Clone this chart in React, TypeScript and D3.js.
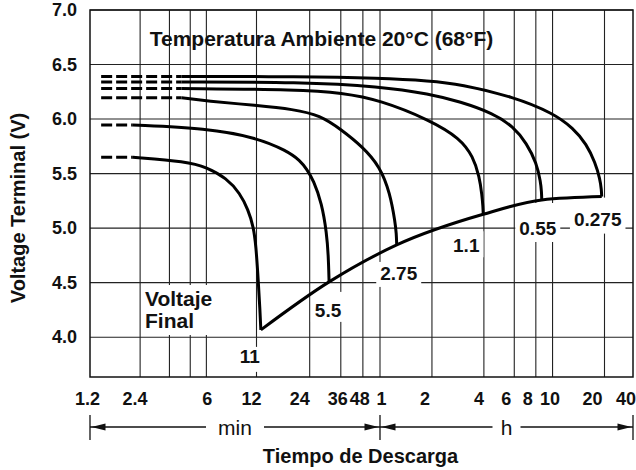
import React from 'react';
import * as d3 from 'd3';

// discharge current labels (A), top curve first
const currents = ['0.275', '0.55', '1.1', '2.75', '5.5', '11'];

// [minutes, volts]
const disch0275 = [[4.26, 6.39], [21.2, 6.39], [60, 6.375], [117, 6.35], [174.5, 6.32], [355.5, 6.205], [607, 6.053], [791, 5.916], [945, 5.77], [1060, 5.6], [1130, 5.45], [1152, 5.35], [1156, 5.289]];
const disch055 = [[4.26, 6.34], [21.2, 6.34], [60, 6.3], [117, 6.23], [174.5, 6.16], [272, 6.053], [355.5, 5.93], [425, 5.778], [485, 5.595], [512, 5.42], [518, 5.33], [519.6, 5.258]];
const disch1_1 = [[4.26, 6.28], [21.2, 6.27], [36.4, 6.24], [60, 6.175], [117, 5.99], [174.5, 5.824], [208, 5.655], [226, 5.472], [234, 5.3], [237, 5.2], [238, 5.127]];
const disch2_75 = [[4.26, 6.196], [6.02, 6.166], [12, 6.125], [19.4, 6.09], [27.5, 6.035], [36.4, 5.9], [47.7, 5.747], [60, 5.564], [68.6, 5.32], [73.5, 5.05], [74.6, 4.95], [75, 4.846]];
const disch5_5 = [[2.17, 5.946], [6.02, 5.916], [12, 5.83], [17.8, 5.71], [21.2, 5.62], [23.1, 5.54], [25.2, 5.44], [28.1, 5.228], [29.95, 4.953], [30.6, 4.75], [30.9, 4.507]];
const disch11 = [[2.17, 5.65], [4.57, 5.61], [6.02, 5.558], [7.94, 5.457], [9.55, 5.32], [10.7, 5.167], [11.49, 5.014], [11.9, 4.85], [12.3, 4.5], [12.55, 4.25], [12.7, 4.067]];
const series = [disch0275, disch055, disch1_1, disch2_75, disch5_5, disch11];

const dashStart = 1.4; // minutes, dashed lead-in starts here

const gridMinutes = [2.4, 3.6, 4.8, 6, 12, 24, 36, 48, 60, 120, 240, 360, 480, 600, 1200];
const tickMinutes = [1.2, 2.4, 6, 12, 24, 36, 48, 60, 120, 240, 360, 480, 600, 1200, 2400];
const tickLabels = ['1.2', '2.4', '6', '12', '24', '36', '48', '1', '2', '4', '6', '8', '10', '20', '40'];
const voltTicks = [4.0, 4.5, 5.0, 5.5, 6.0, 6.5, 7.0];

// layout: the original's tick labels sit a little off their grid lines
const tickNudge = [-2.5, -5, 1, -5, -10, -3, -3, 1.5, -7, -5, -8, -8, -2.5, -12, 0];

// label placement relative to the end of each curve (px)
const labelLayout = [
  { dx: -4, dy: 29, top: -28, bottom: 8 },
  { dx: -4, dy: 35, top: -32, bottom: 7 },
  { dx: -17, dy: 38, top: -21, bottom: 5 },
  { dx: 2, dy: 35, top: -18, bottom: 7 },
  { dx: -1, dy: 35, top: -25, bottom: 5 },
  { dx: -11, dy: 33, top: -16, bottom: 9 },
];

const FONT = '"Liberation Sans", Arial, Helvetica, sans-serif';

const x = d3.scaleLog().domain([1.2, 12, 60, 1200, 2400]).range([90, 256.5, 380, 604.5, 633]);
const y = d3.scaleLinear().domain([3.635, 7.0]).range([377, 10]);

const curveLine = d3.line<number[]>()
  .x(d => x(d[0]))
  .y(d => y(d[1]))
  .curve(d3.curveBasis);

const finalLine = d3.line<number[]>()
  .x(d => x(d[0]))
  .y(d => y(d[1]))
  .curve(d3.curveMonotoneX);

const straight = d3.line<number[]>().x(d => x(d[0])).y(d => y(d[1]));

const textWidth = (s: string, size: number) =>
  s.split('').reduce((w, c) => w + (c === '.' ? 0.278 : 0.556) * size, 0);

export default function App() {
  const [x0, x1] = [x(1.2), x(2400)];
  const [yTop, yBot] = [y(7.0), y(3.635)];
  const ends = series.map(s => s[s.length - 1]);
  const arrowY = 427;
  const xMid = x(60);

  const arrow = (tipX: number, dir: number) =>
    `${tipX},${arrowY} ${tipX + dir * 14},${arrowY - 3.5} ${tipX + dir * 14},${arrowY + 3.5}`;

  return (
    <svg width={636} height={470} style={{ position: 'absolute', left: 0, top: 0, background: '#fff' }}
      fontFamily={FONT}>
      {/* grid */}
      <g stroke="#222" strokeWidth={1.1}>
        {voltTicks.map(v => (
          <line key={'h' + v} x1={x0} x2={x1} y1={y(v)} y2={y(v)} />
        ))}
        {gridMinutes.map(m => (
          <line key={'v' + m} x1={x(m)} x2={x(m)} y1={yTop} y2={yBot} />
        ))}
      </g>
      <rect x={x0} y={yTop} width={x1 - x0} height={yBot - yTop} fill="none" stroke="#111" strokeWidth={1.5} />

      {/* white boxes behind labels */}
      {ends.map((e, i) => {
        const L = labelLayout[i];
        const cx = x(e[0]) + L.dx;
        const base = y(e[1]) + L.dy;
        const w = textWidth(currents[i], 19) + 8;
        return <rect key={'b' + i} x={cx - w / 2} y={base + L.top} width={w} height={L.bottom - L.top} fill="#fff" />;
      })}
      <rect x={143} y={285} width={76} height={50} fill="#fff" />

      {/* title */}
      <text x={321.5} y={46} textAnchor="middle" fontSize={21} fontWeight="bold" fill="#111">
        Temperatura Ambiente 20°C (68°F)
      </text>

      {/* curves */}
      <g fill="none" stroke="#000" strokeWidth={3}>
        {series.map((s, i) => (
          <g key={'c' + i}>
            <path d={straight([[dashStart, s[0][1]], s[0]]) || ''} strokeDasharray="11,4" />
            <path d={curveLine(s) || ''} />
          </g>
        ))}
        <path d={finalLine(ends.slice().reverse()) || ''} />
      </g>

      {/* curve labels */}
      {ends.map((e, i) => {
        const L = labelLayout[i];
        return (
          <text key={'l' + i} x={x(e[0]) + L.dx} y={y(e[1]) + L.dy} textAnchor="middle"
            fontSize={19} fontWeight="bold" fill="#111">{currents[i]}</text>
        );
      })}
      <text x={145} y={306} fontSize={21} fontWeight="bold" fill="#111">Voltaje</text>
      <text x={145} y={328} fontSize={21} fontWeight="bold" fill="#111">Final</text>

      {/* y axis */}
      {voltTicks.map(v => (
        <text key={'yl' + v} x={77} y={y(v)} dy="0.35em" textAnchor="end" fontSize={18} fontWeight="bold" fill="#111">
          {v.toFixed(1)}
        </text>
      ))}
      <text transform="translate(25,208) rotate(-90)" textAnchor="middle" fontSize={20} fontWeight="bold" fill="#111">
        Voltage Terminal (V)
      </text>

      {/* x axis */}
      {tickMinutes.map((m, i) => {
        const last = i === tickMinutes.length - 1;
        return (
          <text key={'xl' + i} x={last ? x(m) + 3 : x(m) + tickNudge[i]} y={405} textAnchor={last ? 'end' : 'middle'}
            fontSize={18} fontWeight="bold" fill="#111">{tickLabels[i]}</text>
        );
      })}

      {/* min / h brackets */}
      <g stroke="#111" strokeWidth={1.3}>
        <line x1={x0} x2={x1} y1={arrowY} y2={arrowY} />
        <line x1={x0} x2={x0} y1={415} y2={440} />
        <line x1={xMid} x2={xMid} y1={415} y2={440} />
        <line x1={x1} x2={x1} y1={415} y2={440} />
      </g>
      <g fill="#111">
        <polygon points={arrow(x0 + 1.5, 1)} />
        <polygon points={arrow(xMid - 1.5, -1)} />
        <polygon points={arrow(xMid + 1.5, 1)} />
        <polygon points={arrow(x1 - 1.5, -1)} />
      </g>
      <rect x={(x0 + xMid) / 2 - 29} y={arrowY - 5} width={58} height={10} fill="#fff" />
      <rect x={(xMid + x1) / 2 - 14} y={arrowY - 5} width={28} height={10} fill="#fff" />
      <text x={(x0 + xMid) / 2} y={435} textAnchor="middle" fontSize={21} fill="#111">min</text>
      <text x={(xMid + x1) / 2} y={435} textAnchor="middle" fontSize={21} fill="#111">h</text>

      <text x={360.5} y={463} textAnchor="middle" fontSize={20} fontWeight="bold" fill="#111">
        Tiempo de Descarga
      </text>
    </svg>
  );
}
